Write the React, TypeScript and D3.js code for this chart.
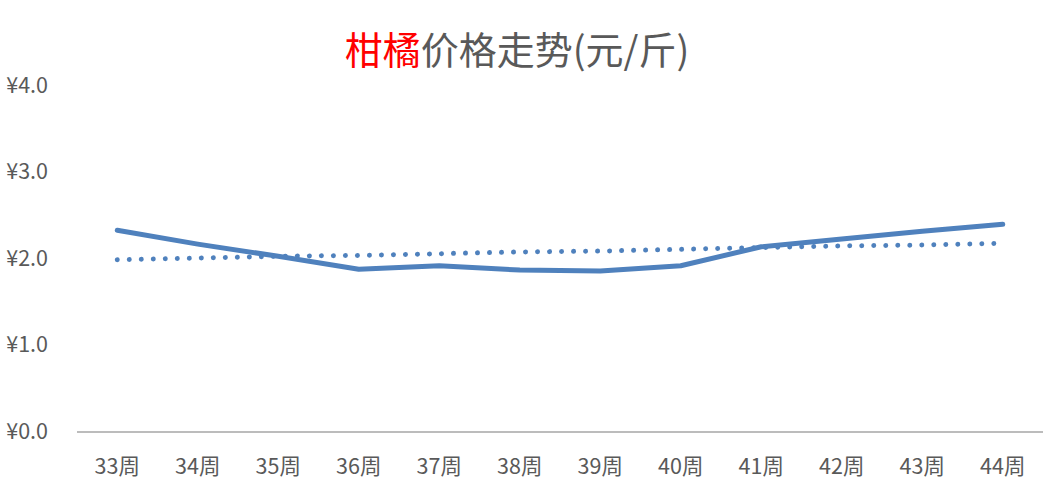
import React, { useEffect, useRef } from 'react';
import * as d3 from 'd3';

const weeks = ['33周', '34周', '35周', '36周', '37周', '38周', '39周', '40周', '41周', '42周', '43周', '44周'];
const prices = [2.32, 2.16, 2.02, 1.87, 1.91, 1.86, 1.85, 1.91, 2.13, 2.22, 2.31, 2.39];
// linear trendline as drawn in the picture
const trend = [1.98, 2.0, 2.02, 2.03, 2.05, 2.07, 2.08, 2.1, 2.12, 2.14, 2.15, 2.17];
const yTicks = [0, 1, 2, 3, 4];

const FONT = '"Noto Sans CJK SC", "Noto Sans", sans-serif';

export default function App() {
  const svgRef = useRef<SVGSVGElement>(null);

  useEffect(() => {
    if (!svgRef.current) return;
    const width = 1055;
    const height = 490;
    const margin = { top: 85, right: 12, bottom: 59, left: 77 };

    const svg = d3.select(svgRef.current);
    svg.selectAll('*').remove();
    svg.attr('width', width).attr('height', height).attr('viewBox', `0 0 ${width} ${height}`);

    const x = d3
      .scaleBand<string>()
      .domain(weeks)
      .range([margin.left, width - margin.right]);
    const y = d3
      .scaleLinear()
      .domain([0, 4])
      .range([height - margin.bottom, margin.top]);

    // title
    const title = svg
      .append('text')
      .attr('x', 517)
      .attr('y', 64)
      .attr('text-anchor', 'middle')
      .attr('font-family', FONT)
      .attr('font-size', 38)
      .attr('fill', '#595959');
    title.append('tspan').attr('fill', '#FF0000').text('柑橘');
    title.append('tspan').text('价格走势(元/斤)');

    // y labels
    svg
      .append('g')
      .selectAll('text')
      .data(yTicks)
      .enter()
      .append('text')
      .attr('x', 48)
      .attr('y', (d) => y(d))
      .attr('dy', '0.35em')
      .attr('text-anchor', 'end')
      .attr('font-family', FONT)
      .attr('font-size', 21.5)
      .attr('fill', '#595959')
      .text((d) => `¥${d.toFixed(1)}`);

    // x axis line
    svg
      .append('line')
      .attr('x1', margin.left)
      .attr('x2', width - margin.right)
      .attr('y1', y(0) + 1)
      .attr('y2', y(0) + 1)
      .attr('stroke', '#A6A6A6')
      .attr('stroke-width', 1.5);

    // x labels
    svg
      .append('g')
      .selectAll('text')
      .data(weeks)
      .enter()
      .append('text')
      .attr('x', (d) => (x(d) ?? 0) + x.bandwidth() / 2)
      .attr('y', 466)
      .attr('dy', '0.35em')
      .attr('text-anchor', 'middle')
      .attr('font-family', FONT)
      .attr('font-size', 21.5)
      .attr('fill', '#595959')
      .text((d) => d);

    const line = d3
      .line<number>()
      .x((_, i) => (x(weeks[i]) ?? 0) + x.bandwidth() / 2)
      .y((d) => y(d));

    // trendline (round dots)
    svg
      .append('path')
      .attr('d', line(trend))
      .attr('fill', 'none')
      .attr('stroke', '#4F81BD')
      .attr('stroke-width', 5)
      .attr('stroke-linecap', 'round')
      .attr('stroke-dasharray', '0.01 12');

    // price line
    svg
      .append('path')
      .attr('d', line(prices))
      .attr('fill', 'none')
      .attr('stroke', '#4F81BD')
      .attr('stroke-width', 5)
      .attr('stroke-linecap', 'round')
      .attr('stroke-linejoin', 'round');
  }, []);

  return (
    <div style={{ position: 'absolute', left: 0, top: 0, background: '#fff' }}>
      <svg ref={svgRef} style={{ display: 'block' }} />
    </div>
  );
}
